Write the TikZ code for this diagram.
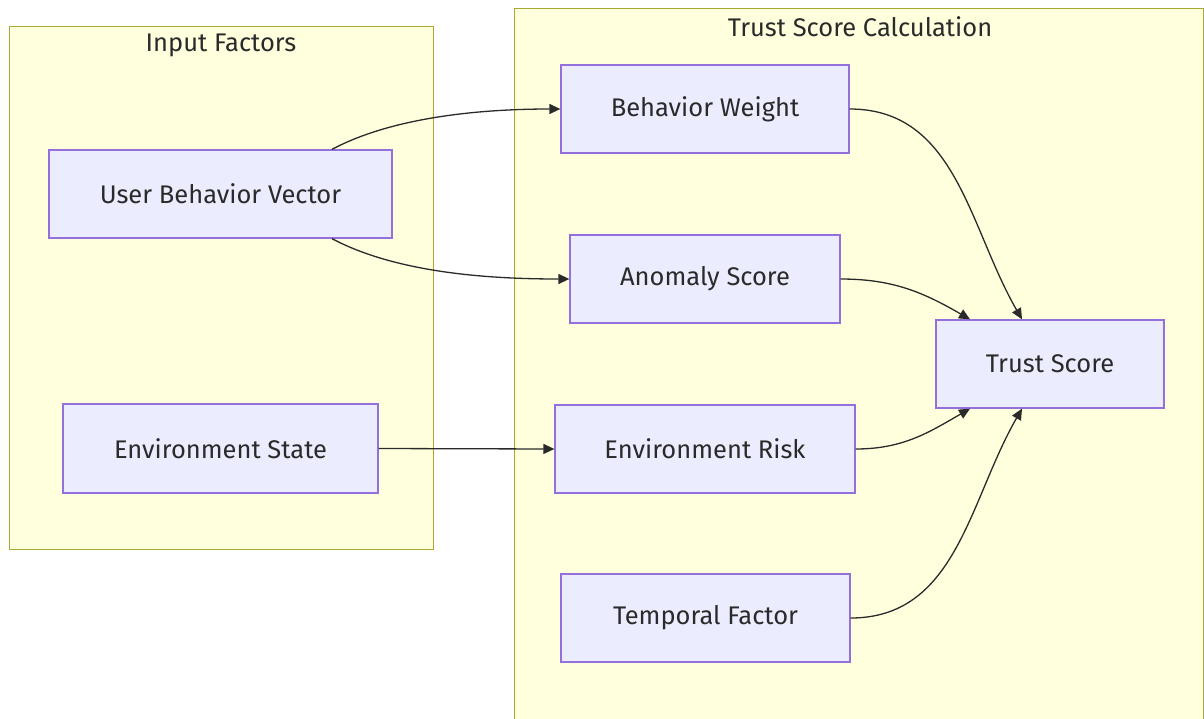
\documentclass[tikz,border=0pt]{standalone}
\usepackage{fontspec}
\setmainfont{Fira Sans}
\usetikzlibrary{arrows.meta}
\definecolor{clfill}{HTML}{FFFFDE}
\definecolor{clline}{HTML}{AAAA33}
\definecolor{ndfill}{HTML}{ECECFF}
\definecolor{ndline}{HTML}{9370DB}
\definecolor{ink}{HTML}{2A2A2A}
\begin{document}
\begin{tikzpicture}[x=1pt,y=1pt,
  cluster/.style={draw=clline,fill=clfill,line width=1.3pt,inner sep=0pt},
  grouptitle/.style={text=ink,font=\fontsize{25.5}{30}\selectfont,inner sep=0pt},
  box/.style={draw=ndline,fill=ndfill,line width=1.3pt,text=ink,
    font=\fontsize{25.5}{30}\selectfont,inner sep=0pt},
  link/.style={draw=ink,line width=1.3pt,-{Triangle[length=11pt,width=10pt]}}]
\useasboundingbox (0,0) rectangle (1204,-718);
\fill[white] (0,0) rectangle (1204,-718);

% groups
\node[cluster,anchor=north west,minimum width=424,minimum height=523] (inputs) at (9,-26) {};
\node[grouptitle] (inputsTitle) at (221,-45) {Input Factors};
\node[cluster,anchor=north west,minimum width=689,minimum height=740] (calc) at (514,-8) {};
\node[grouptitle] (calcTitle) at (860,-27) {Trust Score Calculation};

% inputs
\node[box,minimum width=343,minimum height=88] (ubv) at (220.5,-194) {User Behavior Vector};
\node[box,minimum width=315,minimum height=89] (es) at (220.5,-448.5) {Environment State};

% calculation stages
\node[box,minimum width=288,minimum height=88] (bw) at (705,-109) {Behavior Weight};
\node[box,minimum width=270,minimum height=88] (as) at (705,-279) {Anomaly Score};
\node[box,minimum width=300,minimum height=88] (er) at (705,-449) {Environment Risk};
\node[box,minimum width=289,minimum height=88] (tf) at (705.5,-618) {Temporal Factor};
\node[box,minimum width=228,minimum height=88] (ts) at (1050,-364) {Trust Score};

% connections
\draw[link] ([xshift=111.5]ubv.north) to[out=28,in=180,looseness=0.8] (bw.west);
\draw[link] ([xshift=111.5]ubv.south) to[out=-28,in=180,looseness=0.8] (as.west);
\draw[link] (es.east) -- (er.west);
\draw[link] (bw.east) to[out=0,in=120] ([xshift=-28]ts.north);
\draw[link] (as.east) to[out=0,in=150] ([xshift=-80]ts.north);
\draw[link] (er.east) to[out=0,in=210] ([xshift=-80]ts.south);
\draw[link] (tf.east) to[out=0,in=240] ([xshift=-28]ts.south);
\end{tikzpicture}
\end{document}
